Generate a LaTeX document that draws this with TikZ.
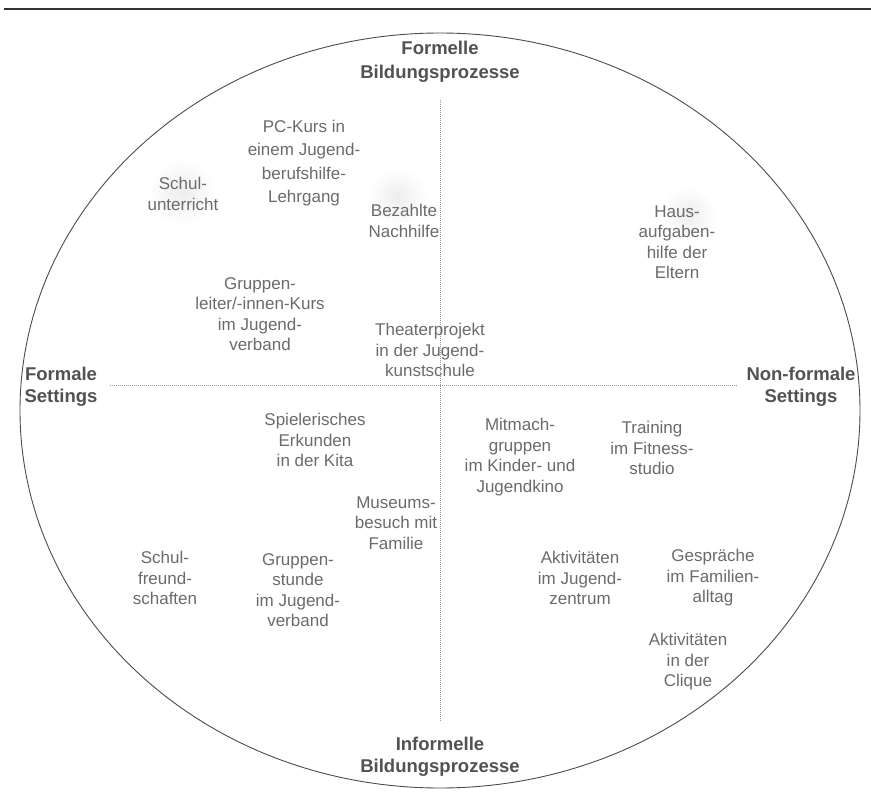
\documentclass[tikz,border=0pt]{standalone}
\usepackage{fontspec}
\setmainfont{Liberation Sans}
\begin{document}
\begin{tikzpicture}[x=1pt,y=-1pt,
  lbl/.style={align=center,text=black!58,font=\fontsize{17}{20.5}\selectfont,inner sep=0pt},
  lblwide/.style={lbl,font=\fontsize{17}{23.5}\selectfont},
  head/.style={align=center,text=black!68,font=\fontsize{18.5}{21.5}\selectfont\bfseries,inner sep=0pt},
  headwide/.style={head,font=\fontsize{18.5}{24}\selectfont\bfseries},
  axisline/.style={black!40,line width=0.7pt,dash pattern=on 1pt off 1pt},
  blob/.style={inner color=black!7,outer color=white}]
\useasboundingbox (0,0) rectangle (871,803);
\fill[white] (0,0) rectangle (871,803);
% top rule
\coordinate (ruleL) at (4,9);
\coordinate (ruleR) at (871,9);
\draw[black!80,line width=2pt] (ruleL) -- (ruleR);
% faint scan spots
\shade[blob] (182,192) circle [radius=34];
\shade[blob] (397,197) circle [radius=30];
\shade[blob] (688,214) circle [radius=28];
% ellipse
\coordinate (c) at (440,410.5);
\draw[black!70,line width=0.9pt] (c) ellipse [x radius=420, y radius=377.5];
% axes
\coordinate (axT) at (440,100);
\coordinate (axB) at (440,722);
\coordinate (axL) at (110,385);
\coordinate (axR) at (738,385);
\draw[axisline] (axL) -- (axR);
\draw[axisline] (axT) -- (axB);
% headings
\node[headwide] (top) at (440,62) {Formelle\\Bildungsprozesse};
\node[head] (bot) at (440,757) {Informelle\\Bildungsprozesse};
\node[head] (left) at (61,387) {Formale\\Settings};
\node[head] (right) at (801,387) {Non-formale\\Settings};
% upper half
\node[lbl] (schul) at (183,194) {Schul-\\unterricht};
\node[lblwide] (pc) at (304,163) {PC-Kurs in\\einem Jugend-\\berufshilfe-\\Lehrgang};
\node[lbl] (nachhilfe) at (404,221) {Bezahlte\\Nachhilfe};
\node[lbl] (haus) at (677,242) {Haus-\\aufgaben-\\hilfe der\\Eltern};
\node[lbl] (gl) at (260,314) {Gruppen-\\leiter/-innen-Kurs\\im Jugend-\\verband};
\node[lbl] (theater) at (430,350) {Theaterprojekt\\in der Jugend-\\kunstschule};
% lower half
\node[lbl] (kita) at (315,440) {Spielerisches\\Erkunden\\in der Kita};
\node[lbl] (kino) at (520,457) {Mitmach-\\gruppen\\im Kinder- und\\Jugendkino};
\node[lbl] (fitness) at (652,448) {Training\\im Fitness-\\studio};
\node[lbl] (museum) at (396,523) {Museums-\\besuch mit\\Familie};
\node[lbl] (freund) at (165,578) {Schul-\\freund-\\schaften};
\node[lbl] (stunde) at (298,590) {Gruppen-\\stunde\\im Jugend-\\verband};
\node[lbl] (zentrum) at (580,578) {Aktivitäten\\im Jugend-\\zentrum};
\node[lbl] (familie) at (713,578) {Gespräche\\im Familien-\\alltag};
\node[lbl] (clique) at (688,662) {Aktivitäten\\in der\\Clique};
\end{tikzpicture}
\end{document}
